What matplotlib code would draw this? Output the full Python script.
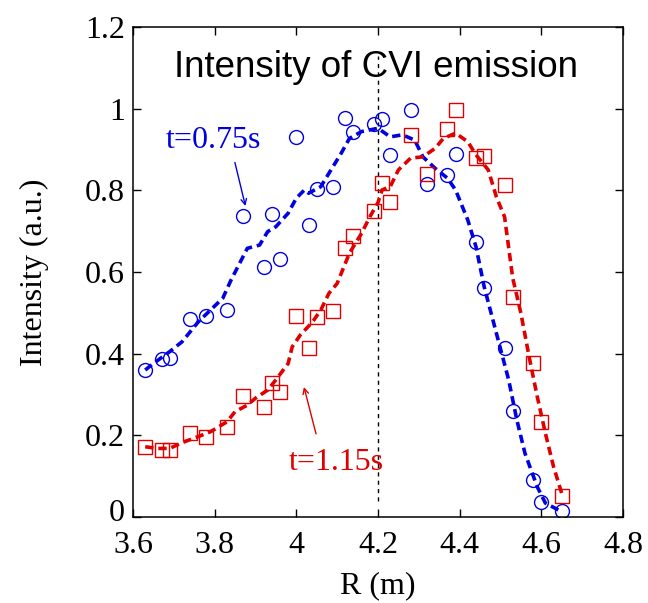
import matplotlib
matplotlib.use('Agg')
import matplotlib.pyplot as plt
import matplotlib.transforms as mtransforms
import numpy as np

# measured points (same R positions for both times)
r_pts = [3.63, 3.67, 3.69, 3.74, 3.78, 3.83, 3.87, 3.92, 3.94, 3.96,
         4.00, 4.03, 4.05, 4.09, 4.12, 4.14, 4.19, 4.21, 4.23, 4.28,
         4.32, 4.37, 4.39, 4.44, 4.46, 4.51, 4.53, 4.58, 4.60, 4.65]
i_075 = [0.360, 0.386, 0.390, 0.484, 0.492, 0.507, 0.737, 0.613, 0.742, 0.631,
         0.931, 0.715, 0.803, 0.809, 0.976, 0.942, 0.962, 0.974, 0.886, 0.997,
         0.816, 0.837, 0.888, 0.673, 0.562, 0.415, 0.260, 0.090, 0.037, 0.015]
i_115 = [0.172, 0.164, 0.164, 0.205, 0.197, 0.221, 0.296, 0.269, 0.327, 0.306,
         0.492, 0.413, 0.491, 0.505, 0.660, 0.688, 0.750, 0.819, 0.772, 0.935,
         0.839, 0.950, 0.996, 0.878, 0.885, 0.813, 0.538, 0.378, 0.232, 0.051]

# smoothed profiles (dashed)
r_fit_075 = [3.63, 3.65, 3.69, 3.72, 3.76, 3.79, 3.82, 3.84, 3.88, 3.91,
             3.93, 3.95, 3.98, 4.00, 4.02, 4.03, 4.06, 4.08, 4.11, 4.13,
             4.16, 4.20, 4.23, 4.26, 4.29, 4.31, 4.34, 4.37, 4.39, 4.42,
             4.44, 4.46, 4.49, 4.52, 4.54, 4.56, 4.59, 4.61, 4.65]
i_fit_075 = [0.360, 0.376, 0.405, 0.429, 0.478, 0.507, 0.536, 0.580, 0.658, 0.666,
             0.699, 0.711, 0.744, 0.781, 0.801, 0.793, 0.809, 0.842, 0.891, 0.927,
             0.944, 0.952, 0.931, 0.936, 0.923, 0.882, 0.854, 0.830, 0.801, 0.727,
             0.662, 0.564, 0.450, 0.336, 0.238, 0.156, 0.074, 0.034, 0.013]
r_fit_115 = [3.63, 3.66, 3.69, 3.72, 3.76, 3.79, 3.83, 3.85, 3.88, 3.90,
             3.93, 3.95, 3.98, 3.99, 4.01, 4.04, 4.06, 4.08, 4.10, 4.13,
             4.16, 4.18, 4.20, 4.21, 4.23, 4.25, 4.28, 4.31, 4.34, 4.36,
             4.39, 4.42, 4.44, 4.47, 4.49, 4.51, 4.53, 4.55, 4.57, 4.59,
             4.61, 4.63, 4.65]
i_fit_115 = [0.172, 0.168, 0.168, 0.182, 0.197, 0.209, 0.233, 0.258, 0.274, 0.291,
             0.311, 0.336, 0.376, 0.417, 0.446, 0.478, 0.507, 0.548, 0.572, 0.646,
             0.695, 0.735, 0.770, 0.801, 0.809, 0.850, 0.879, 0.882, 0.903, 0.927,
             0.940, 0.919, 0.887, 0.850, 0.784, 0.735, 0.585, 0.499, 0.393, 0.295,
             0.205, 0.123, 0.058]

blue = '#0000e0'
red = '#e00000'
serif = ['Liberation Serif', 'DejaVu Serif']

plt.rcParams['lines.scale_dashes'] = False

fig = plt.figure(figsize=(6.48, 6.03), dpi=100)
ax = fig.add_axes([0.2052, 0.1426, 0.7562, 0.8126])

ax.plot([4.2, 4.2], [0.04, 1.13], color='black', lw=1.0, dashes=(3, 3))

ax.plot(r_fit_075, i_fit_075, color=blue, lw=2.6, dashes=(6, 3.5))
ax.plot(r_fit_115, i_fit_115, color=red, lw=2.6, dashes=(6, 3.5))
ax.plot(r_pts, i_075, 'o', mfc='none', mec=blue, ms=10, mew=1.0)
ax.plot(r_pts, i_115, 's', mfc='none', mec=red, ms=10.5, mew=1.0)

ax.text(4.195, 1.078, 'Intensity of CVI emission', ha='center', va='baseline',
        fontsize=26.5, family=['Liberation Sans', 'DejaVu Sans'])

ax.text(3.798, 0.904, 't=0.75s', color=blue, ha='center', va='baseline',
        fontsize=23, family=serif)
ax.annotate('', xy=(3.877, 0.755), xytext=(3.848, 0.875),
            arrowprops=dict(arrowstyle='->', color=blue, lw=1.0))
ax.text(4.098, 0.115, 't=1.15s', color=red, ha='center', va='baseline',
        fontsize=23, family=serif)
ax.annotate('', xy=(4.017, 0.325), xytext=(4.050, 0.197),
            arrowprops=dict(arrowstyle='->', color=red, lw=1.0))

ax.set_xlim(3.6, 4.8)
ax.set_ylim(0, 1.2)
ax.set_xticks([3.6, 3.8, 4.0, 4.2, 4.4, 4.6, 4.8])
ax.set_xticklabels(['3.6', '3.8', '4', '4.2', '4.4', '4.6', '4.8'])
ax.set_yticks([0, 0.2, 0.4, 0.6, 0.8, 1.0, 1.2])
ax.set_yticklabels(['0', '0.2', '0.4', '0.6', '0.8', '1', '1.2'])
ax.tick_params(direction='in', length=6, width=1.0, top=True, right=True,
               labelsize=23, pad=6)
ax.tick_params(axis='x', pad=10)
for lab in ax.get_xticklabels() + ax.get_yticklabels():
    lab.set_family(serif)
# the "0" label sits a little above its tick, as in the original
y0 = ax.get_yticklabels()[0]
y0.set_transform(y0.get_transform() + mtransforms.ScaledTranslation(0, 5 / 72, fig.dpi_scale_trans))
for sp in ax.spines.values():
    sp.set_linewidth(1.1)

ax.set_xlabel('R (m)', fontsize=23, family=serif, labelpad=8)
ax.set_ylabel('Intensity (a.u.)', fontsize=23, family=serif, labelpad=26)

fig.savefig('out.png', dpi=100)
